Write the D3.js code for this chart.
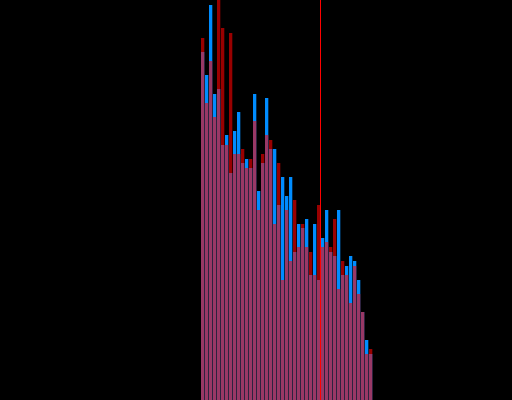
<!DOCTYPE html>
<html>
<head>
<meta charset="utf-8">
<script src="https://cdn.jsdelivr.net/npm/d3@7"></script>
<style>
  html, body { margin: 0; padding: 0; background: black; }
  svg { display: block; }
</style>
</head>
<body>
<div id="chart"></div>
<script>
'use strict';

const Color = {
  Blue: `rgb(0,140,255)`,
  Red: `rgb(255,0,0)`,
  Background: `black`,
}

// bin index 0..42, counts
const bins = d3.range(43);
const blueCounts = [348, 325, 395, 306, 311, 255, 265, 227, 269, 288, 237, 241, 232, 306, 209,
  237, 302, 251, 251, 195, 223, 204, 223, 148, 176, 172, 181, 125, 176, 120, 162, 190, 148,
  144, 190, 125, 134, 144, 139, 120, 88, 60, 46];
const redCounts = [362, 297, 339, 283, 402, 372, 255, 367, 246, 246, 251, 232, 241, 279, 190,
  246, 265, 260, 176, 237, 120, 190, 139, 200, 153, 176, 153, 148, 125, 195, 153, 158, 153,
  181, 111, 139, 125, 97, 134, 106, 88, 46, 51];
const markerBin = 29.875; // the vertical red line

const width = 512, height = 400;

const svg = d3.select("#chart")
  .append("svg")
    .attr("width", width)
    .attr("height", height)
    .style("background", Color.Background);

// x in bin units, y in counts
const x = d3.scaleLinear()
  .domain([0, bins.length])
  .range([201, 373]);

const y = d3.scaleLinear()
  .domain([0, 400])
  .range([height, 0]);

const barWidth = x(1) - x(0) - 0.7;

// blue first, opaque
svg.append("g")
  .selectAll("rect")
  .data(bins)
  .enter()
  .append("rect")
    .attr("x", d => x(d))
    .attr("y", d => y(blueCounts[d]))
    .attr("width", barWidth)
    .attr("height", d => y(0) - y(blueCounts[d]))
    .attr("fill", Color.Blue);

// red on top, see-through
svg.append("g")
  .selectAll("rect")
  .data(bins)
  .enter()
  .append("rect")
    .attr("x", d => x(d))
    .attr("y", d => y(redCounts[d]))
    .attr("width", barWidth)
    .attr("height", d => y(0) - y(redCounts[d]))
    .attr("fill", Color.Red)
    .attr("fill-opacity", 0.6);

svg.append("line")
  .attr("x1", x(markerBin))
  .attr("x2", x(markerBin))
  .attr("y1", 0)
  .attr("y2", height)
  .attr("stroke", Color.Red)
  .attr("stroke-width", 1);
</script>
</body>
</html>
